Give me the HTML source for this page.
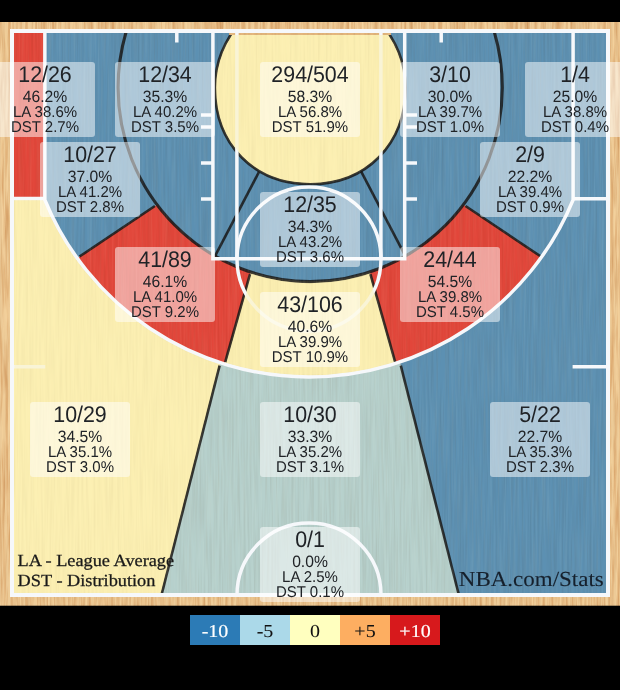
<!DOCTYPE html>
<html lang="en"><head><meta charset="utf-8"><title>Shot Chart</title>
<style>
html,body{margin:0;padding:0;background:#000;}
body{width:620px;height:690px;overflow:hidden;position:relative;font-family:"Liberation Sans",Arial,sans-serif;}
svg{position:absolute;left:0;top:0;display:block;}
.lb rect{fill:#fff;fill-opacity:.5;}
.lb text{font-family:"Liberation Sans",Arial,sans-serif;fill:#202327;text-anchor:middle;text-rendering:geometricPrecision;}
.lb .t{font-size:21.4px;}
.lb .s{font-size:15px;}
.lb .p{font-size:15.7px;}
.ser{font-family:"Liberation Serif","Times New Roman",serif;}
.ln{stroke:#f6f8fb;fill:none;}
.dk{stroke:#151515;stroke-width:2.6;fill:none;stroke-opacity:.85;}
</style></head><body>
<svg width="620" height="690" viewBox="0 0 620 690">
<defs>
<clipPath id="court"><rect x="12" y="31" width="596" height="564"/></clipPath>
<clipPath id="in3"><path d="M44.85,31 L44.85,199.8 A285.5,285.5 0 0 0 573.1,199.8 L573.1,31 Z"/></clipPath>
<clipPath id="c16"><rect x="0" y="33" width="620" height="400"/></clipPath>
<clipPath id="c8"><rect x="0" y="35" width="620" height="400"/></clipPath>
<filter id="grain" x="0" y="0" width="100%" height="100%" color-interpolation-filters="sRGB"><feTurbulence type="fractalNoise" baseFrequency="0.5 0.015" numOctaves="2" seed="7" result="n"/><feColorMatrix in="n" type="matrix" values="0 0 0 0 0.25  0 0 0 0 0.12  0 0 0 0 0  0.16 0 0 0 -0.06"/></filter>
<filter id="grain2" x="0" y="0" width="100%" height="100%" color-interpolation-filters="sRGB"><feTurbulence type="fractalNoise" baseFrequency="0.5 0.015" numOctaves="2" seed="11" result="n"/><feColorMatrix in="n" type="matrix" values="0 0 0 0 1  0 0 0 0 1  0 0 0 0 0.9  0.14 0 0 0 -0.055"/></filter>
<filter id="grain3" x="0" y="0" width="100%" height="100%" color-interpolation-filters="sRGB"><feTurbulence type="fractalNoise" baseFrequency="0.35 0.02" numOctaves="3" seed="4" result="n"/><feColorMatrix in="n" type="matrix" values="0 0 0 0 0.74  0 0 0 0 0.45  0 0 0 0 0.2  1.0 0 0 0 -0.36"/></filter>
<clipPath id="frame"><path clip-rule="evenodd" d="M0,22 H620 V606 H0 Z M10,29 V597 H610 V29 Z"/></clipPath>
</defs>
<rect width="620" height="690" fill="#000"/>
<rect x="0" y="22" width="620" height="584" fill="#f2cf9a"/>
<g clip-path="url(#court)">
<polygon points="0,0 334.8,-89.2 160.85,597.55 0,700" fill="#fcefb2"/>
<polygon points="334.8,-89.2 285.6,-89.2 459.55,597.55 160.85,597.55" fill="#b6d0cc"/>
<polygon points="620,0 285.6,-89.2 459.55,597.55 620,700" fill="#5c90b2"/>
<rect x="0" y="0" width="44.85" height="198.5" fill="#e2463a"/>
<rect x="573.1" y="0" width="100" height="198.5" fill="#5c90b2"/>
<line class="dk" x1="219.6" y1="365.6" x2="159.12" y2="604.37"/>
<line class="dk" x1="400.8" y1="365.6" x2="461.28" y2="604.37"/>
</g>
<g clip-path="url(#in3)">
<rect x="0" y="0" width="620" height="500" fill="#fcefb2"/>
<polygon points="381.1,54.5 41.8,281.75 217.76,388.6 324.4,10.2" fill="#e2463a"/>
<polygon points="239.3,54.5 578.6,281.75 402.64,388.6 296,10.2" fill="#e2463a"/>
<polygon points="0,0 381.1,54.5 41.8,281.75 0,281.75" fill="#5c90b2"/>
<polygon points="620,0 239.3,54.5 578.6,281.75 620,281.75" fill="#5c90b2"/>
<line class="dk" x1="154.9" y1="206" x2="79.5" y2="256.5"/>
<line class="dk" x1="465.5" y1="206" x2="540.9" y2="256.5"/>
<line class="dk" x1="250" y1="274.2" x2="225.2" y2="362.2"/>
<line class="dk" x1="370.4" y1="274.2" x2="395.2" y2="362.2"/>
</g>
<g clip-path="url(#c16)">
<ellipse cx="310.2" cy="87.5" rx="192.1" ry="193.8" fill="#5c90b2"/>
<ellipse class="dk" style="stroke-width:3.1" cx="310.2" cy="87.5" rx="192.1" ry="194.1"/>
<line class="dk" x1="259.3" y1="171.3" x2="215.4" y2="255.4"/>
<line class="dk" x1="361.1" y1="171.3" x2="405" y2="255.4"/>
</g>
<rect x="229" y="32" width="162" height="3.2" fill="#e3b57c"/>
<g clip-path="url(#c8)">
<path d="M214.9,87.5 A95.3,95.6 0 0 1 405.5,87.5 C405.5,144.55 366.43,184.2 310.2,184.2 C253.97,184.2 214.9,144.55 214.9,87.5 Z" fill="#fcefb2"/>
<path class="dk" d="M214.9,87.5 A95.3,95.6 0 0 1 405.5,87.5 C405.5,144.55 366.43,184.2 310.2,184.2 C253.97,184.2 214.9,144.55 214.9,87.5 Z"/>
</g>
<rect x="0" y="22" width="620" height="583" filter="url(#grain)"/>
<rect x="0" y="22" width="620" height="583" filter="url(#grain2)"/>
<g clip-path="url(#frame)"><rect x="0" y="22" width="620" height="584" filter="url(#grain3)"/></g>
<rect class="ln" stroke-width="4" x="12" y="31" width="596" height="564"/>
<g class="ln" stroke-width="3.5">
<path d="M212.9,31 V258.7 H404.7 V31"/>
<path d="M236.9,31 V258.7 M380.9,31 V258.7"/>
<circle cx="309" cy="259" r="72"/>
<path d="M201,115 H213 M404.7,115 H417"/>
<path d="M201,127 H213 M404.7,127 H417"/>
<path d="M201,163 H213 M404.7,163 H417"/>
<path d="M201,199 H213 M404.7,199 H417"/>
<path d="M176.8,31 V42.5 M441.2,31 V42.5"/>
<path d="M12,366.8 H45.2 M572.6,366.8 H608"/>
<path d="M12,198.4 H45 M573,198.8 H608"/>
<path d="M237,595 A72,72 0 0 1 381,595"/>
</g>
<path class="ln" stroke-width="3.5" d="M44.85,31 V199.8 A285.5,285.5 0 0 0 573.1,199.8 V31"/>
<mask id="ym" maskUnits="userSpaceOnUse" x="0" y="0" width="620" height="690">
<rect width="620" height="690" fill="#000"/>
<polygon points="14.3,200.8 259.64,200.8 160.38,592.7 14.3,592.7" fill="#fff"/>
<path d="M44.85,31 L44.85,199.8 A285.5,285.5 0 0 0 573.1,199.8 L573.1,31 Z" fill="#000"/>
<g clip-path="url(#in3)"><polygon points="326.1,10.2 219.46,388.6 400.94,388.6 294.3,10.2" fill="#fff"/></g>
<ellipse cx="310.2" cy="87.5" rx="193.7" ry="195.4" fill="#000"/>
<g clip-path="url(#c8)"><path d="M216.5,87.5 A93.7,94 0 0 1 403.9,87.5 C403.9,143.61 365.48,182.6 310.2,182.6 C254.92,182.6 216.5,143.61 216.5,87.5 Z" fill="#fff"/></g>
<path d="M44.85,31 V199.8 A285.5,285.5 0 0 0 573.1,199.8 V31" fill="none" stroke="#000" stroke-width="4.6"/>
</mask>
<rect x="0" y="22" width="620" height="583" fill="#fcefb2" fill-opacity="0.5" mask="url(#ym)"/>
<g class="lb"><rect x="-5" y="62" width="100" height="75" rx="3"/>
<text class="t" transform="translate(45,81.6) scale(1,1.06)">12/26</text>
<text class="p" transform="translate(45,102) scale(1,1.045)">46.2%</text>
<text class="s" transform="translate(45,116.8) scale(1,1.04)">LA 38.6%</text>
<text class="s" transform="translate(45,131.8) scale(1,1.04)">DST 2.7%</text>
</g>
<g class="lb"><rect x="115" y="62" width="100" height="75" rx="3"/>
<text class="t" transform="translate(165,81.6) scale(1,1.06)">12/34</text>
<text class="p" transform="translate(165,102) scale(1,1.045)">35.3%</text>
<text class="s" transform="translate(165,116.8) scale(1,1.04)">LA 40.2%</text>
<text class="s" transform="translate(165,131.8) scale(1,1.04)">DST 3.5%</text>
</g>
<g class="lb"><rect x="260" y="62" width="100" height="75" rx="3"/>
<text class="t" transform="translate(310,81.6) scale(1,1.06)">294/504</text>
<text class="p" transform="translate(310,102) scale(1,1.045)">58.3%</text>
<text class="s" transform="translate(310,116.8) scale(1,1.04)">LA 56.8%</text>
<text class="s" transform="translate(310,131.8) scale(1,1.04)">DST 51.9%</text>
</g>
<g class="lb"><rect x="400" y="62" width="100" height="75" rx="3"/>
<text class="t" transform="translate(450,81.6) scale(1,1.06)">3/10</text>
<text class="p" transform="translate(450,102) scale(1,1.045)">30.0%</text>
<text class="s" transform="translate(450,116.8) scale(1,1.04)">LA 39.7%</text>
<text class="s" transform="translate(450,131.8) scale(1,1.04)">DST 1.0%</text>
</g>
<g class="lb"><rect x="525" y="62" width="100" height="75" rx="3"/>
<text class="t" transform="translate(575,81.6) scale(1,1.06)">1/4</text>
<text class="p" transform="translate(575,102) scale(1,1.045)">25.0%</text>
<text class="s" transform="translate(575,116.8) scale(1,1.04)">LA 38.8%</text>
<text class="s" transform="translate(575,131.8) scale(1,1.04)">DST 0.4%</text>
</g>
<g class="lb"><rect x="40" y="142" width="100" height="75" rx="3"/>
<text class="t" transform="translate(90,161.6) scale(1,1.06)">10/27</text>
<text class="p" transform="translate(90,182) scale(1,1.045)">37.0%</text>
<text class="s" transform="translate(90,196.8) scale(1,1.04)">LA 41.2%</text>
<text class="s" transform="translate(90,211.8) scale(1,1.04)">DST 2.8%</text>
</g>
<g class="lb"><rect x="480" y="142" width="100" height="75" rx="3"/>
<text class="t" transform="translate(530,161.6) scale(1,1.06)">2/9</text>
<text class="p" transform="translate(530,182) scale(1,1.045)">22.2%</text>
<text class="s" transform="translate(530,196.8) scale(1,1.04)">LA 39.4%</text>
<text class="s" transform="translate(530,211.8) scale(1,1.04)">DST 0.9%</text>
</g>
<g class="lb"><rect x="260" y="192" width="100" height="75" rx="3"/>
<text class="t" transform="translate(310,211.6) scale(1,1.06)">12/35</text>
<text class="p" transform="translate(310,232) scale(1,1.045)">34.3%</text>
<text class="s" transform="translate(310,246.8) scale(1,1.04)">LA 43.2%</text>
<text class="s" transform="translate(310,261.8) scale(1,1.04)">DST 3.6%</text>
</g>
<g class="lb"><rect x="115" y="247" width="100" height="75" rx="3"/>
<text class="t" transform="translate(165,266.6) scale(1,1.06)">41/89</text>
<text class="p" transform="translate(165,287) scale(1,1.045)">46.1%</text>
<text class="s" transform="translate(165,301.8) scale(1,1.04)">LA 41.0%</text>
<text class="s" transform="translate(165,316.8) scale(1,1.04)">DST 9.2%</text>
</g>
<g class="lb"><rect x="400" y="247" width="100" height="75" rx="3"/>
<text class="t" transform="translate(450,266.6) scale(1,1.06)">24/44</text>
<text class="p" transform="translate(450,287) scale(1,1.045)">54.5%</text>
<text class="s" transform="translate(450,301.8) scale(1,1.04)">LA 39.8%</text>
<text class="s" transform="translate(450,316.8) scale(1,1.04)">DST 4.5%</text>
</g>
<g class="lb"><rect x="260" y="292" width="100" height="75" rx="3"/>
<text class="t" transform="translate(310,311.6) scale(1,1.06)">43/106</text>
<text class="p" transform="translate(310,332) scale(1,1.045)">40.6%</text>
<text class="s" transform="translate(310,346.8) scale(1,1.04)">LA 39.9%</text>
<text class="s" transform="translate(310,361.8) scale(1,1.04)">DST 10.9%</text>
</g>
<g class="lb"><rect x="30" y="402" width="100" height="75" rx="3"/>
<text class="t" transform="translate(80,421.6) scale(1,1.06)">10/29</text>
<text class="p" transform="translate(80,442) scale(1,1.045)">34.5%</text>
<text class="s" transform="translate(80,456.8) scale(1,1.04)">LA 35.1%</text>
<text class="s" transform="translate(80,471.8) scale(1,1.04)">DST 3.0%</text>
</g>
<g class="lb"><rect x="260" y="402" width="100" height="75" rx="3"/>
<text class="t" transform="translate(310,421.6) scale(1,1.06)">10/30</text>
<text class="p" transform="translate(310,442) scale(1,1.045)">33.3%</text>
<text class="s" transform="translate(310,456.8) scale(1,1.04)">LA 35.2%</text>
<text class="s" transform="translate(310,471.8) scale(1,1.04)">DST 3.1%</text>
</g>
<g class="lb"><rect x="490" y="402" width="100" height="75" rx="3"/>
<text class="t" transform="translate(540,421.6) scale(1,1.06)">5/22</text>
<text class="p" transform="translate(540,442) scale(1,1.045)">22.7%</text>
<text class="s" transform="translate(540,456.8) scale(1,1.04)">LA 35.3%</text>
<text class="s" transform="translate(540,471.8) scale(1,1.04)">DST 2.3%</text>
</g>
<g class="lb"><rect x="260" y="527" width="100" height="75" rx="3"/>
<text class="t" transform="translate(310,546.6) scale(1,1.06)">0/1</text>
<text class="p" transform="translate(310,567) scale(1,1.045)">0.0%</text>
<text class="s" transform="translate(310,581.8) scale(1,1.04)">LA 2.5%</text>
<text class="s" transform="translate(310,596.8) scale(1,1.04)">DST 0.1%</text>
</g>
<g class="ser" fill="#1a1a1a" stroke="#1a1a1a" stroke-width="0.3" style="text-rendering:geometricPrecision">
<text transform="translate(17.6,565.8) scale(1,0.93)" font-size="18.3">LA - League Average</text>
<text transform="translate(17.6,585.8) scale(1,0.93)" font-size="18.3">DST - Distribution</text>
<text transform="translate(603.8,585.6) scale(1,0.93)" font-size="23" text-anchor="end" stroke-width="0.12" fill="#16202c" stroke="#16202c">NBA.com/Stats</text>
</g>
<rect x="0" y="605.7" width="620" height="85" fill="#000"/>
<rect x="0" y="0" width="620" height="22" fill="#000"/>
<g class="ser" font-size="20" text-anchor="middle" style="text-rendering:geometricPrecision">
<rect x="190" y="615" width="50" height="30" fill="#2c7bb6"/>
<text transform="translate(215,637.2) scale(1,0.91)" fill="#fff" stroke="#fff" stroke-width="0.2">-10</text>
<rect x="240" y="615" width="50" height="30" fill="#abd9e9"/>
<text transform="translate(265,637.2) scale(1,0.91)" fill="#111" stroke="#111" stroke-width="0.05">-5</text>
<rect x="290" y="615" width="50" height="30" fill="#ffffbf"/>
<text transform="translate(315,637.2) scale(1,0.91)" fill="#111" stroke="#111" stroke-width="0.05">0</text>
<rect x="340" y="615" width="50" height="30" fill="#fdae61"/>
<text transform="translate(365,637.2) scale(1,0.91)" fill="#111" stroke="#111" stroke-width="0.05">+5</text>
<rect x="390" y="615" width="50" height="30" fill="#d7191c"/>
<text transform="translate(415,637.2) scale(1,0.91)" fill="#fff" stroke="#fff" stroke-width="0.2">+10</text>
</g>
</svg>
</body></html>
